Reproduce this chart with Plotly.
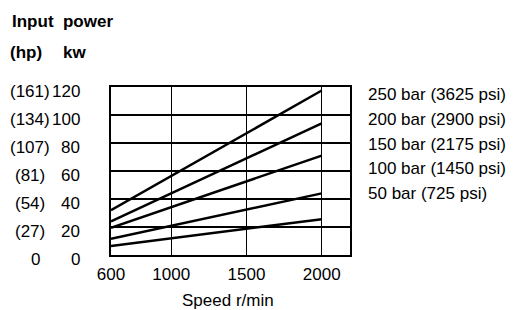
import plotly.graph_objects as go

# ---- data ----
speed = [600, 2000]                       # r/min, start and end of each line
series_names = ["250 bar (3625 psi)", "200 bar (2900 psi)", "150 bar (2175 psi)",
                "100 bar (1450 psi)", "50 bar (725 psi)"]
power_250 = [32, 117.5]
power_200 = [24, 94]
power_150 = [19.5, 71]
power_100 = [11.5, 44]
power_50 = [6.5, 25.5]
series_values = [power_250, power_200, power_150, power_100, power_50]

kw_ticks = [0, 20, 40, 60, 80, 100, 120]
hp_labels = ["0", "(27)", "(54)", "(81)", "(107)", "(134)", "(161)"]
x_ticks = [600, 1000, 1500, 2000]
grid_x = [1000, 1500, 2000]

FONT = "Liberation Sans, Arial, sans-serif"
FS = 17
W, H = 514, 310
L, R, T, B = 111, 164, 87, 55

fig = go.Figure()
for name, vals in zip(series_names, series_values):
    fig.add_trace(go.Scatter(x=speed, y=vals, mode="lines", name=name,
                             line=dict(color="black", width=2.5), showlegend=False,
                             hoverinfo="skip"))

def px_x(p):
    return (p - L) / (W - L - R)

def px_y(p):
    return (H - B - p) / (H - T - B)

txt = dict(family=FONT, size=FS, color="black")
ann = []
# y tick labels: hp column and kw column
for v, hp in zip(kw_ticks, hp_labels):
    if hp.startswith("("):
        ann.append(dict(x=px_x(30), y=v, xref="paper", yref="y", text=hp, showarrow=False,
                        xanchor="center", yanchor="middle", yshift=-4, font=txt))
    else:
        ann.append(dict(x=px_x(42), y=v, xref="paper", yref="y", text=hp, showarrow=False,
                        xanchor="right", yanchor="middle", yshift=-4, font=txt))
    ann.append(dict(x=px_x(82), y=v, xref="paper", yref="y", text=str(v), showarrow=False,
                    xanchor="right", yanchor="middle", yshift=-4, font=txt))

# series labels on the right
label_y = [94, 119, 144, 168.5, 193.5]
for name, yy in zip(series_names, label_y):
    ann.append(dict(x=px_x(366), y=px_y(yy), xref="paper", yref="paper", text=name,
                    showarrow=False, xanchor="left", yanchor="middle", font=txt))

# axis heading
ann.append(dict(x=px_x(10), y=px_y(21), xref="paper", yref="paper",
                text="<b>Input&nbsp;&nbsp;power</b>", showarrow=False,
                xanchor="left", yanchor="middle", font=txt))
ann.append(dict(x=px_x(8), y=px_y(52), xref="paper", yref="paper",
                text="<b>(hp)</b>", showarrow=False,
                xanchor="left", yanchor="middle", font=txt))
ann.append(dict(x=px_x(61), y=px_y(52), xref="paper", yref="paper",
                text="<b>kw</b>", showarrow=False,
                xanchor="left", yanchor="middle", font=txt))
# x axis title
ann.append(dict(x=px_x(228), y=px_y(300), xref="paper", yref="paper",
                text="Speed r/min", showarrow=False,
                xanchor="center", yanchor="middle", font=txt))

fig.update_layout(
    width=W, height=H,
    margin=dict(l=L, r=R, t=T, b=B, pad=0, autoexpand=False),
    paper_bgcolor="white", plot_bgcolor="white",
    font=txt,
    annotations=ann,
    hovermode=False,
    xaxis=dict(range=[600, 2188], tickvals=x_ticks, ticktext=[str(t) for t in x_ticks],
               showgrid=False, zeroline=False, showline=True, linecolor="black",
               linewidth=1.6, mirror=True, ticks="", ticklabelstandoff=3,
               tickfont=txt, automargin=False,
               minor=dict(tickvals=grid_x, showgrid=True, gridcolor="black", gridwidth=1.3)),
    yaxis=dict(range=[0, 120], tickvals=kw_ticks, showticklabels=False, showgrid=True,
               gridcolor="black", gridwidth=1.3, zeroline=False, showline=True,
               linecolor="black", linewidth=1.6, mirror=True, ticks="", automargin=False),
)

fig.write_html("out.html", config={"displayModeBar": False, "staticPlot": True},
               post_script="document.body.style.margin='0';")
